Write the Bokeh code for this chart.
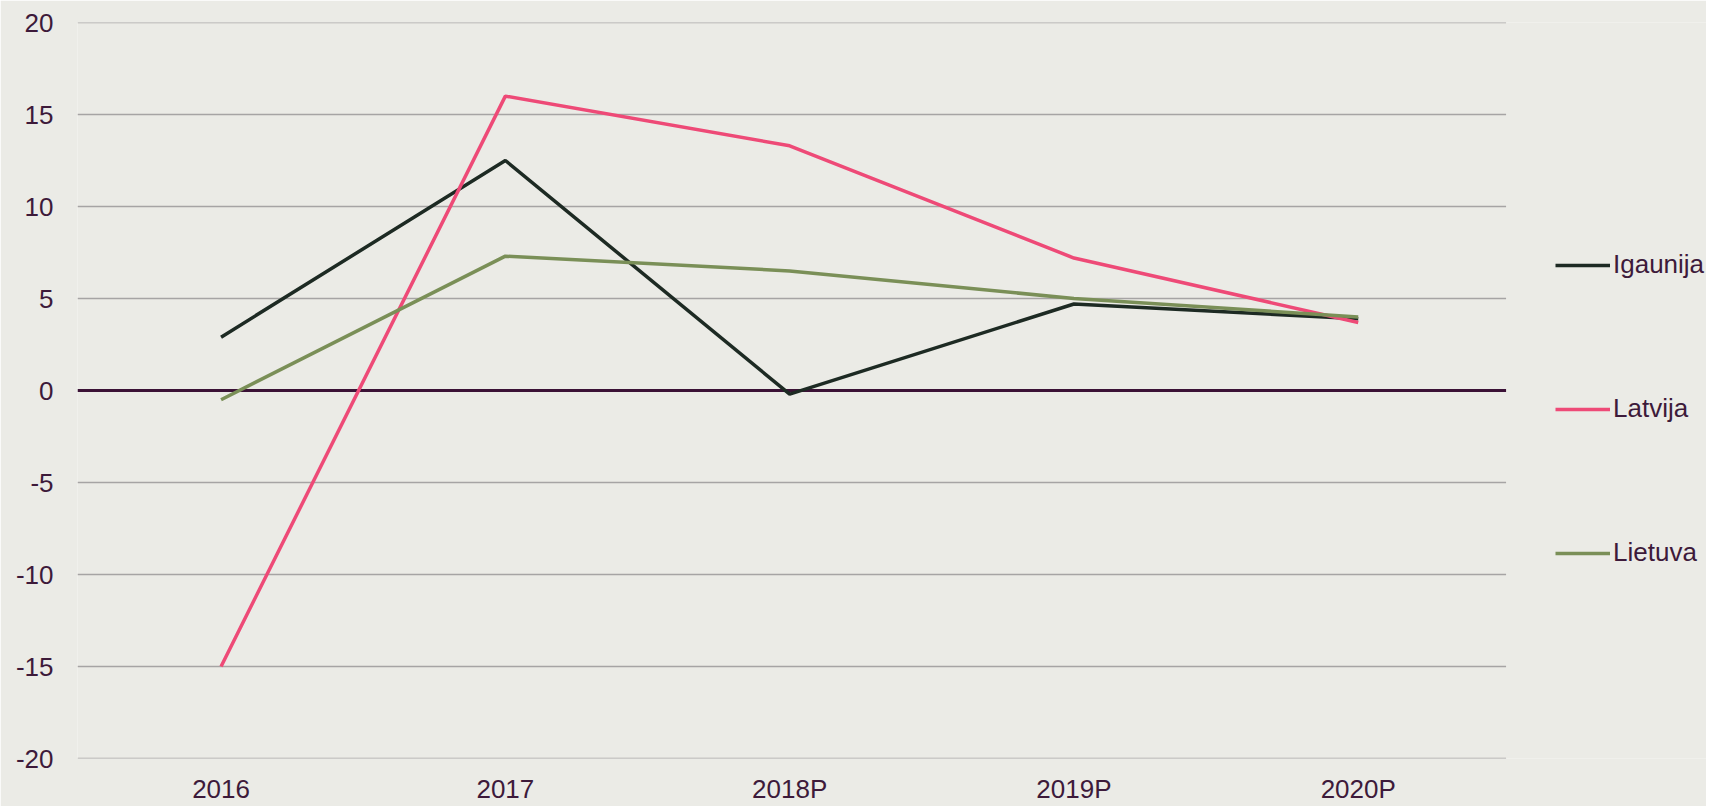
from bokeh.plotting import figure
from bokeh.models import Range1d, Legend, LegendItem, FixedTicker
from bokeh.embed import file_html
from bokeh.resources import INLINE

years = ["2016", "2017", "2018P", "2019P", "2020P"]
igaunija = [2.9, 12.5, -0.2, 4.7, 3.9]
latvija = [-15.0, 16.0, 13.3, 7.2, 3.7]
lietuva = [-0.5, 7.3, 6.5, 5.0, 4.0]
y_ticks = [-20, -15, -10, -5, 0, 5, 10, 15, 20]

BG = "#EBEBE6"
TXT = "#3D1A3A"
FONT = "Liberation Sans"
C_IG, C_LA, C_LI = "#1D2A23", "#EE4A77", "#7A8F57"

xs = list(range(len(years)))
x_lo, x_hi = -0.505, len(years) - 0.48

p = figure(width=1706, height=806, x_range=Range1d(x_lo, 5.225),
           y_range=Range1d(y_ticks[0], y_ticks[-1]), output_backend="svg", toolbar_location=None,
           background_fill_color=BG, border_fill_color=BG, outline_line_color=None,
           min_border_left=77, min_border_right=0, min_border_top=22, min_border_bottom=46)

p.xgrid.grid_line_color = None
p.ygrid.grid_line_color = None
p.xaxis.ticker = FixedTicker(ticks=xs)
p.xaxis.major_label_overrides = {i: y for i, y in zip(xs, years)}
p.yaxis.ticker = FixedTicker(ticks=y_ticks)
p.yaxis.major_label_overrides = {t: str(t) for t in y_ticks}
for ax in (p.xaxis[0], p.yaxis[0]):
    ax.axis_line_color = None
    ax.major_tick_line_color = None
    ax.minor_tick_line_color = None
    ax.major_tick_out = 0
    ax.major_tick_in = 0
    ax.major_label_text_font = FONT
    ax.major_label_text_font_size = "26px"
    ax.major_label_text_color = TXT
p.yaxis.major_label_standoff = 24
p.xaxis.major_label_standoff = 15

grid_y = [t for t in y_ticks if t != 0]
p.segment(x0=[x_lo] * len(grid_y), x1=[x_hi] * len(grid_y), y0=grid_y, y1=grid_y,
          line_color="#A6A4A4", line_width=1.3)
p.segment(x0=[x_lo], x1=[x_hi], y0=[0], y1=[0], line_color="#3B1236", line_width=3)

r1 = p.line(xs, igaunija, line_color=C_IG, line_width=3.5)
r2 = p.line(xs, latvija, line_color=C_LA, line_width=3.5)
r3 = p.line(xs, lietuva, line_color=C_LI, line_width=3.5)

legend = Legend(items=[LegendItem(label="Igaunija", renderers=[r1]),
                       LegendItem(label="Latvija", renderers=[r2]),
                       LegendItem(label="Lietuva", renderers=[r3])],
                location=(1478, 190), orientation="vertical",
                glyph_width=55, glyph_height=30, label_height=30, spacing=113,
                label_standoff=3, padding=0, margin=0,
                border_line_color=None, background_fill_alpha=0,
                label_text_font=FONT, label_text_font_size="26px", label_text_color=TXT)
p.add_layout(legend, "center")

open("out.html", "w").write(file_html(p, INLINE))
